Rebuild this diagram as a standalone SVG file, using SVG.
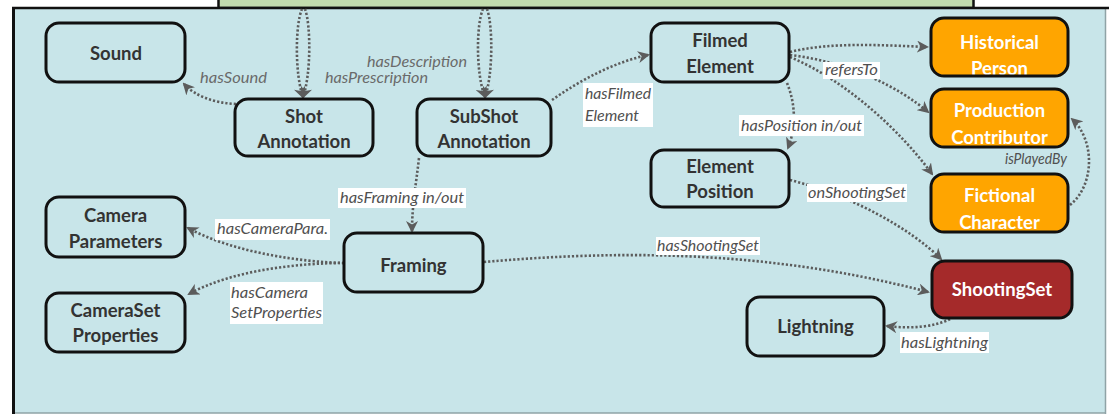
<svg xmlns="http://www.w3.org/2000/svg" width="1109" height="414" viewBox="0 0 1109 414">
  <defs>
    <marker id="arrow" viewBox="0 0 12 12" refX="10" refY="6" markerWidth="12" markerHeight="12" markerUnits="userSpaceOnUse" orient="auto">
      <path d="M0,0 L12,6 L0,12 L3.5,6 Z" fill="#5c5c5c"/>
    </marker>
    <style>
      .node { fill: none; stroke: #111; stroke-width: 3; }
      .plain { fill: #c8e5e9; }
      .orange { fill: #ffa500; }
      .red { fill: #a52a2a; }
      .nt { font-family: Lato, "Open Sans", sans-serif; font-weight: bold; font-size: 18.5px; fill: #333; text-anchor: middle; }
      .wt { fill: #fff; }
      .edge { fill: none; stroke: #5c5c5c; stroke-width: 2.6; stroke-dasharray: 2.2 2; marker-end: url(#arrow); }
      .lbl { font-family: Lato, "Open Sans", sans-serif; font-style: italic; font-size: 15px; fill: #505050; }
      .lbl2 { font-family: Lato, "Open Sans", sans-serif; font-style: italic; font-size: 15px; fill: #6a6a6a; }
      .lbg { fill: #fff; }
    </style>
  </defs>

  <!-- page background -->
  <rect x="0" y="0" width="1109" height="414" fill="#fff"/>

  <!-- upper green block (partially visible) -->
  <rect x="218.5" y="-3" width="755" height="11" fill="#c3dcae" stroke="#111" stroke-width="2.5"/>

  <!-- main light-blue panel -->
  <rect x="13.5" y="8" width="1092" height="405" fill="#c8e5e9"/>
  <line x1="1105.5" y1="8" x2="1105.5" y2="414" stroke="#8fa3a6" stroke-width="1.5"/>
  <line x1="13" y1="413" x2="1106" y2="413" stroke="#8fa3a6" stroke-width="1.5"/>
  <line x1="12" y1="8" x2="1109" y2="8" stroke="#111" stroke-width="2.5"/>
  <line x1="13.5" y1="7" x2="13.5" y2="414" stroke="#111" stroke-width="3"/>

  <!-- connectors -->
  <g id="connectors">
    <path class="edge" d="M302,9 C295,25 295,75 303,97"/>
    <path class="edge" d="M305,9 C311,25 311,75 303,97"/>
    <path class="edge" d="M483,9 C476,25 476,75 485,97"/>
    <path class="edge" d="M487,9 C493,25 493,75 485,97"/>
    <path class="edge" d="M236,104 C214,103 195,96 184,84"/>
    <path class="edge" d="M552,100 C582,79 615,62 648,55"/>
    <path class="edge" d="M419,158 C416,185 412,205 412,231"/>
    <path class="edge" d="M790,52 C830,42 880,45 927,47"/>
    <path class="edge" d="M790,55 C850,62 900,88 928,112"/>
    <path class="edge" d="M790,57 C845,80 900,130 932,174"/>
    <path class="edge" d="M787,83 C796,105 796,128 788,148"/>
    <path class="edge" d="M790,180 C850,195 910,228 941,259"/>
    <path class="edge" d="M1070,205 C1095,185 1095,140 1072,119"/>
    <path class="edge" d="M344,263 C300,262 232,252 188,228"/>
    <path class="edge" d="M344,263 C300,263 232,270 189,294"/>
    <path class="edge" d="M484,262 C620,250 770,250 928,292"/>
    <path class="edge" d="M950,319 C935,327 910,329 887,326"/>
  </g>

  <!-- connector labels -->
  <g id="labels">
    <text class="lbl2" x="200" y="83" textLength="67" lengthAdjust="spacingAndGlyphs">hasSound</text>
    <text class="lbl2" x="367" y="67" textLength="100" lengthAdjust="spacingAndGlyphs">hasDescription</text>
    <text class="lbl2" x="325" y="83" textLength="103" lengthAdjust="spacingAndGlyphs">hasPrescription</text>

    <rect class="lbg" x="583" y="83" width="70" height="44"/>
    <text class="lbl" x="585" y="99" textLength="66" lengthAdjust="spacingAndGlyphs">hasFilmed</text>
    <text class="lbl" x="585" y="121" textLength="54" lengthAdjust="spacingAndGlyphs">Element</text>

    <rect class="lbg" x="823" y="62" width="57" height="17"/>
    <text class="lbl" x="825" y="75" textLength="53" lengthAdjust="spacingAndGlyphs">refersTo</text>

    <rect class="lbg" x="739" y="115" width="125" height="21"/>
    <text class="lbl" x="741" y="131" textLength="121" lengthAdjust="spacingAndGlyphs">hasPosition in/out</text>

    <rect class="lbg" x="807" y="184" width="100" height="18"/>
    <text class="lbl" x="808" y="198" textLength="98" lengthAdjust="spacingAndGlyphs">onShootingSet</text>

    <text class="lbl" x="1005" y="164" textLength="62" lengthAdjust="spacingAndGlyphs">isPlayedBy</text>

    <rect class="lbg" x="656" y="237" width="104" height="18"/>
    <text class="lbl" x="657" y="251" textLength="102" lengthAdjust="spacingAndGlyphs">hasShootingSet</text>

    <rect class="lbg" x="338" y="188" width="128" height="20"/>
    <text class="lbl" x="340" y="203" textLength="124" lengthAdjust="spacingAndGlyphs">hasFraming in/out</text>

    <rect class="lbg" x="215" y="219" width="115" height="21"/>
    <text class="lbl" x="217" y="234" textLength="111" lengthAdjust="spacingAndGlyphs">hasCameraPara.</text>

    <rect class="lbg" x="230" y="282" width="93" height="42"/>
    <text class="lbl" x="231" y="298" textLength="77" lengthAdjust="spacingAndGlyphs">hasCamera</text>
    <text class="lbl" x="231" y="318" textLength="91" lengthAdjust="spacingAndGlyphs">SetProperties</text>

    <rect class="lbg" x="900" y="332" width="89" height="21"/>
    <text class="lbl" x="901" y="348" textLength="87" lengthAdjust="spacingAndGlyphs">hasLightning</text>
  </g>

  <!-- nodes -->
  <g id="sound">
    <rect class="node" x="46" y="23" width="139" height="59" rx="13"/>
    <text class="nt" x="116" y="60">Sound</text>
  </g>
  <g id="shot-annotation">
    <rect class="node" x="235" y="99" width="138" height="57" rx="13"/>
    <text class="nt" x="304" y="123">Shot</text>
    <text class="nt" x="304" y="148">Annotation</text>
  </g>
  <g id="subshot-annotation">
    <rect class="node" x="417" y="99" width="134" height="57" rx="13"/>
    <text class="nt" x="484" y="123">SubShot</text>
    <text class="nt" x="484" y="148">Annotation</text>
  </g>
  <g id="filmed-element">
    <rect class="node" x="651" y="23" width="138" height="59" rx="13"/>
    <text class="nt" x="720" y="47">Filmed</text>
    <text class="nt" x="720" y="73">Element</text>
  </g>
  <g id="element-position">
    <rect class="node" x="651" y="150" width="138" height="57" rx="13"/>
    <text class="nt" x="720" y="173">Element</text>
    <text class="nt" x="720" y="198">Position</text>
  </g>
  <g id="historical-person">
    <rect class="orange" x="931" y="18" width="137" height="58" rx="13"/>
    <text class="nt wt" x="999.5" y="49">Historical</text>
    <text class="nt wt" x="999.5" y="74.5">Person</text>
    <rect class="node" x="931" y="18" width="137" height="58" rx="13"/>
  </g>
  <g id="production-contributor">
    <rect class="orange" x="931" y="89" width="137" height="58" rx="13"/>
    <text class="nt wt" x="999.5" y="117">Production</text>
    <text class="nt wt" x="999.5" y="144">Contributor</text>
    <rect class="node" x="931" y="89" width="137" height="58" rx="13"/>
  </g>
  <g id="fictional-character">
    <rect class="orange" x="931" y="174" width="137" height="58" rx="13"/>
    <text class="nt wt" x="999.5" y="202">Fictional</text>
    <text class="nt wt" x="999.5" y="229">Character</text>
    <rect class="node" x="931" y="174" width="137" height="58" rx="13"/>
  </g>
  <g id="camera-parameters">
    <rect class="node" x="46" y="197" width="139" height="60" rx="13"/>
    <text class="nt" x="115.5" y="222">Camera</text>
    <text class="nt" x="115.5" y="248">Parameters</text>
  </g>
  <g id="framing">
    <rect class="node" x="344" y="233" width="139" height="59" rx="13"/>
    <text class="nt" x="413.5" y="272">Framing</text>
  </g>
  <g id="cameraset-properties">
    <rect class="node" x="46" y="293" width="139" height="59" rx="13"/>
    <text class="nt" x="115.5" y="317">CameraSet</text>
    <text class="nt" x="115.5" y="342">Properties</text>
  </g>
  <g id="shooting-set">
    <rect class="red" x="932" y="261" width="140" height="57" rx="13"/>
    <rect class="node" x="932" y="261" width="140" height="57" rx="13"/>
    <text class="nt wt" x="1002" y="296">ShootingSet</text>
  </g>
  <g id="lightning">
    <rect class="node" x="747" y="297" width="137" height="59" rx="13"/>
    <text class="nt" x="815.5" y="333">Lightning</text>
  </g>
</svg>
